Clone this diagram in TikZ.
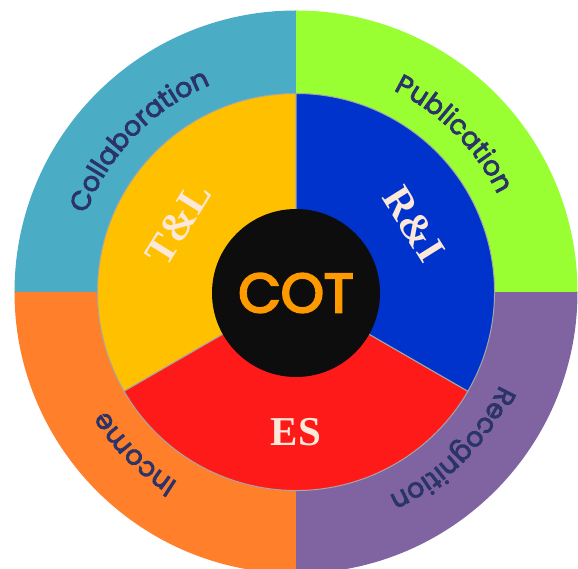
\documentclass[tikz,border=0pt]{standalone}
\usepackage{fontspec}
\usepackage{xcolor}
\usepackage{tikz}
\usetikzlibrary{decorations.text}
\newfontfamily\ringfont[FakeBold=3]{Poppins}
\newfontfamily\cotfont[FakeBold=4]{Poppins}
\newfontfamily\sectfont{Liberation Serif}
\definecolor{collabcol}{HTML}{4BACC6}
\definecolor{pubcol}{HTML}{99FF33}
\definecolor{recogcol}{HTML}{8064A2}
\definecolor{incomecol}{HTML}{FF7F2A}
\definecolor{tlcol}{HTML}{FFC000}
\definecolor{ricol}{HTML}{0033CC}
\definecolor{escol}{HTML}{FF1A1A}
\definecolor{cotblack}{HTML}{0D0D0D}
\definecolor{cotorange}{HTML}{FF9900}
\definecolor{ringtext}{HTML}{2B3468}
\definecolor{creamtext}{HTML}{FCE8D8}
\definecolor{ringgray}{HTML}{A6A6A6}
\tikzset{
  ringlabel/.style={decorate, decoration={text along path, text align=center,
      text color=ringtext, text={|\ringfont\fontsize{27}{27}\selectfont|#1}}},
  sectlabel/.style={text=creamtext, font=\sectfont\bfseries\fontsize{41}{41}\selectfont},
  sectfill/.style={fill=#1, draw=ringgray, line width=1pt},
}

\begin{document}
\begin{tikzpicture}[x=1pt,y=1pt]
                \useasboundingbox (-296,-277) rectangle (282,292);
                % outer ring
                \fill[collabcol] (0,0) -- (90:281.5pt) arc[start angle=90, end angle=180, radius=281.5pt] -- cycle;
                \fill[incomecol] (0,0) -- (180:281.5pt) arc[start angle=180, end angle=270, radius=281.5pt] -- cycle;
                \fill[recogcol] (0,0) -- (270:281.5pt) arc[start angle=270, end angle=360, radius=281.5pt] -- cycle;
                \fill[pubcol] (0,0) -- (0:281.5pt) arc[start angle=0, end angle=90, radius=281.5pt] -- cycle;
                \path[ringlabel=Collaboration] (171:224pt) arc[start angle=171, end angle=101, radius=224pt];
                \path[ringlabel=Publication] (80:224pt) arc[start angle=80, end angle=10, radius=224pt];
                \path[ringlabel=Recognition] (-10:224pt) arc[start angle=-10, end angle=-80, radius=224pt];
                \path[ringlabel=Income] (260:224pt) arc[start angle=260, end angle=190, radius=224pt];
                % middle ring
                \filldraw[sectfill=tlcol] (0,0) -- (90:198.5pt) arc[start angle=90, end angle=210, radius=198.5pt] -- cycle;
                \filldraw[sectfill=escol] (0,0) -- (210:198.5pt) arc[start angle=210, end angle=330, radius=198.5pt] -- cycle;
                \filldraw[sectfill=ricol] (0,0) -- (330:198.5pt) arc[start angle=330, end angle=450, radius=198.5pt] -- cycle;
                \node[sectlabel, rotate=58] (tl) at (150:136pt) {T\&L};
                \node[sectlabel, rotate=-58] (ri) at (30:136pt) {R\&I};
                \node[sectlabel] (es) at (270:140pt) {ES};
                % centre
                \node[circle, fill=cotblack, minimum size=168pt, inner sep=0pt, text=cotorange,
                      font=\cotfont\fontsize{55}{55}\selectfont] (cot) at (0,-1) {COT};
            \end{tikzpicture}
\end{document}
